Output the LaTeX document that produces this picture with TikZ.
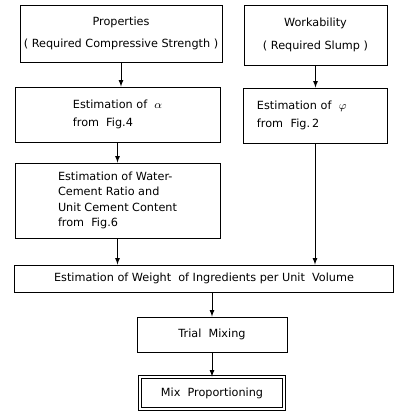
\documentclass[tikz,border=0pt]{standalone}
\usepackage{fontspec}
\setmainfont{DejaVu Sans}
\usetikzlibrary{arrows, calc}

\tikzset{
  blk/.style={draw, line width=0.65pt, align=left, inner sep=2pt,
    font=\fontsize{8}{11}\selectfont},
  arr/.style={-latex, line width=0.6pt},
}

\begin{document}
\begin{tikzpicture}[x=0.025cm, y=-0.025cm]
\useasboundingbox (0,0) rectangle (400,411);
\node[blk, align=center, minimum width=5.05cm, minimum height=1.425cm] (prop) at (121,33.5)
  {Properties\\[5pt] ( Required Compressive Strength )};
\node[blk, align=center, minimum width=3.575cm, minimum height=1.5cm] (work) at (315.5,35)
  {Workability\\[5pt] ( Required Slump )};
\node[blk, minimum width=5.125cm, minimum height=1.375cm] (alpha) at (117.5,114.5)
  {Estimation of \ $\alpha$\\[2pt] from \ Fig.4};
\node[blk, minimum width=3.6cm, minimum height=1.375cm, text width=2.9cm] (phi) at (315,115.5)
  {Estimation of \ $\varphi$\\[2pt] from \ Fig.\,2};
\node[blk, minimum width=5.125cm, minimum height=1.875cm] (wc) at (117.5,200.5)
  {Estimation of Water-\\Cement Ratio and\\Unit Cement Content\\from \ Fig.6};
\node[blk, minimum width=9.45cm, minimum height=0.675cm] (weight) at (204,278.5)
  {Estimation of Weight \ of Ingredients per Unit \ Volume};
\node[blk, minimum width=3.75cm, minimum height=0.875cm] (trial) at (212,334.5)
  {Trial \ Mixing};
\node[blk, double, double distance=1.2pt, minimum width=3.6cm, minimum height=0.8cm] (mix) at (212,393)
  {Mix \ Proportioning};

% connectors
\draw[arr] (prop) -- (prop |- alpha.north);
\draw[arr] (work) -- (work |- phi.north);
\draw[arr] (alpha) -- (alpha |- wc.north);
\draw[arr] (wc) -- (wc |- weight.north);
\draw[arr] (phi) -- (phi |- weight.north);
\draw[arr] (weight.south -| trial) -- (trial.north);
\draw[arr] (trial) -- (mix);
\end{tikzpicture}
\end{document}
